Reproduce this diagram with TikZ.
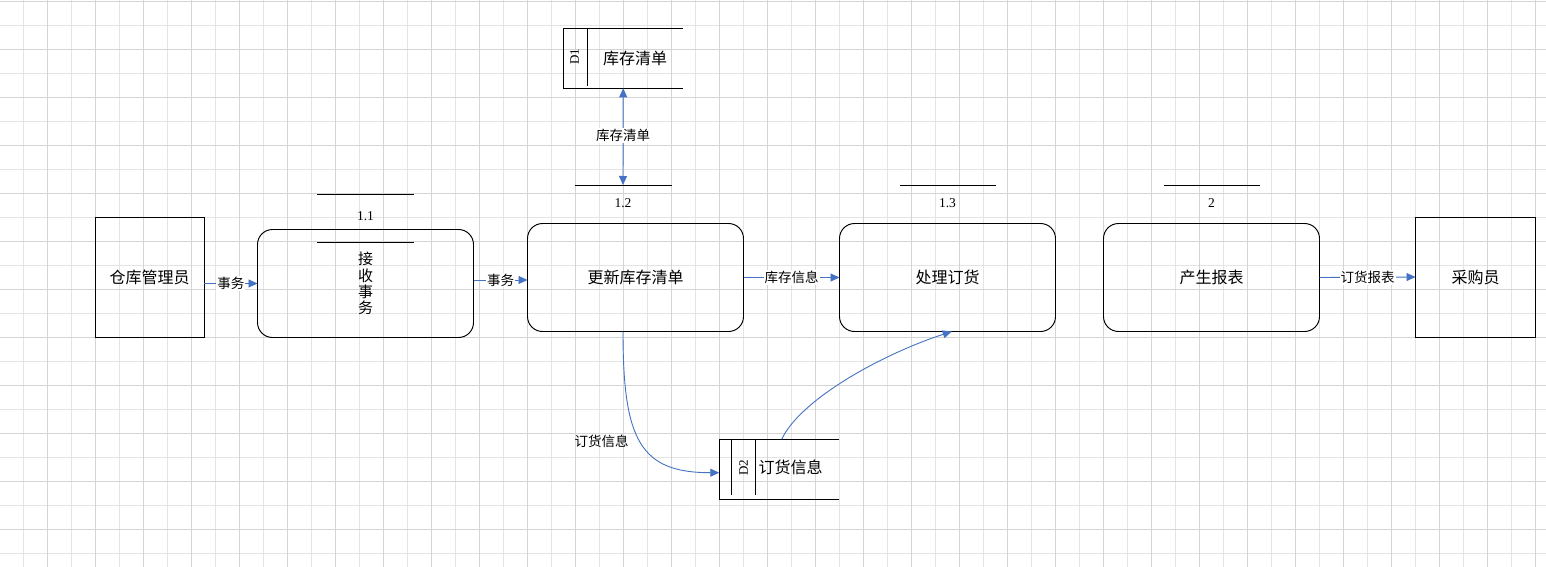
\documentclass[tikz,border=0pt]{standalone}
\usepackage{fontspec}
\setmainfont{Liberation Serif}
\newfontfamily\cjk{Noto Sans CJK SC}
\usetikzlibrary{arrows.meta}
\definecolor{flowblue}{RGB}{68,114,196}
\definecolor{gridminor}{RGB}{228,228,228}
\definecolor{gridmajor}{RGB}{212,212,212}
\begin{document}
\begin{tikzpicture}[x=1pt,y=-1pt,
  entity/.style={draw,line width=0.95pt,minimum width=109pt,minimum height=120pt,inner sep=0pt,outer sep=0pt,font=\cjk\fontsize{16}{18}\selectfont},
  proc/.style={draw,line width=0.95pt,rounded corners=15pt,minimum width=216pt,minimum height=108pt,inner sep=0pt,outer sep=0pt,font=\cjk\fontsize{16}{18}\selectfont},
  store/.style={minimum width=119.5pt,minimum height=60pt,inner sep=0pt,outer sep=0pt},
  storeline/.style={line width=0.95pt},
  hdr/.style={line width=0.95pt},
  num/.style={font=\fontsize{13.5}{15}\selectfont,inner sep=0pt},
  sid/.style={font=\fontsize{13}{15}\selectfont,inner sep=0pt,rotate=90},
  stxt/.style={font=\cjk\fontsize{16}{18}\selectfont,inner sep=0pt},
  flow/.style={draw=flowblue,line width=0.9pt,-{Triangle[length=9pt,width=8pt]}},
  lbl/.style={fill=white,inner sep=1pt,font=\cjk\fontsize{13.5}{15}\selectfont},
  freelbl/.style={inner sep=0pt,font=\cjk\fontsize{13.5}{15}\selectfont}]
\useasboundingbox (0,0) rectangle (1546,567);
\fill[white] (0,0) rectangle (1546,567);
% grid
\foreach \j in {0,...,31} {
  \draw[gridminor,line width=0.9pt] (23.5+48*\j,0) -- (23.5+48*\j,567);
}
\foreach \j in {0,...,11} {
  \draw[gridminor,line width=0.9pt] (0,25.5+48*\j) -- (1546,25.5+48*\j);
}
\foreach \j in {0,...,31} {
  \draw[gridmajor,line width=0.9pt] (47.5+48*\j,0) -- (47.5+48*\j,567);
}
\foreach \j in {0,...,11} {
  \draw[gridmajor,line width=0.9pt] (0,1.5+48*\j) -- (1546,1.5+48*\j);
}

% external entities
\node[entity] (e1) at (149.5,277) {仓库管理员};
\node[entity,minimum width=120pt] (e2) at (1475.5,277) {采购员};

% processes
\node[proc,align=center,font=\cjk\fontsize{15}{16.3}\selectfont] (p11) at (365.5,283.5) {接\\收\\事\\务};
\node[proc] (p12) at (635.5,277.5) {更新库存清单};
\node[proc] (p13) at (947.5,277.5) {处理订货};
\node[proc] (p2) at (1211.5,277.5) {产生报表};

% process headers
\draw[hdr] (317,194.3) -- (414,194.3);
\node[num] (n11) at (365.5,216.5) {1.1};
\draw[hdr] (317,242) -- (414,242);
\draw[hdr] (575,185) -- (671.5,185);
\coordinate (h12) at (623,185);
\node[num] (n12) at (623,203) {1.2};
\draw[hdr] (899.5,185) -- (995.5,185);
\node[num] (n13) at (947.5,203) {1.3};
\draw[hdr] (1163.5,185) -- (1259.5,185);
\node[num] (n2) at (1211.5,203) {2};

% data stores
\node[store] (d1) at (623.2,58.3) {};
\draw[storeline] (d1.north east) -- (d1.north west) -- (d1.south west) -- (d1.south east);
\draw[storeline] (587.3,28.8) -- (587.3,86.5);
\node[sid] (d1id) at (574.5,57) {D1};
\node[stxt] (d1t) at (635,58) {库存清单};

\node[store] (d2) at (779,469.3) {};
\draw[storeline] (d2.north east) -- (d2.north west) -- (d2.south west) -- (d2.south east);
\draw[storeline] (731.7,439.8) -- (731.7,495);
\draw[storeline] (755.3,439.8) -- (755.3,495);
\node[sid] (d2id) at (743.5,467.5) {D2};
\node[stxt] (d2t) at (790.7,467.5) {订货信息};

% flows
\draw[flow] (e1.east |- p11.west) -- node[lbl] {事务} (p11.west);
\draw[flow] ([yshift=3.5pt]p11.east) -- node[lbl] {事务} ([yshift=3.5pt]p11.east -| p12.west);
\draw[flow] (p12.east) -- node[lbl] {库存信息} (p13.west);
\draw[flow] (p2.east) -- node[lbl] {订货报表} (e2.west);
\draw[flow,{Triangle[length=9pt,width=8pt]}-{Triangle[length=9pt,width=8pt]}] (d1.south) -- node[lbl,pos=0.49] {库存清单} (h12);
\draw[flow] ([xshift=-12.5pt]p12.south) .. controls (623,440) and (640,472.7) .. ([yshift=-3.4pt]d2.west);
\node[freelbl] (l5) at (601.7,441.7) {订货信息};
\draw[flow] ([xshift=2.7pt]d2.north) .. controls (800,400) and (880,355) .. ([xshift=4.2pt]p13.south);
\end{tikzpicture}
\end{document}
